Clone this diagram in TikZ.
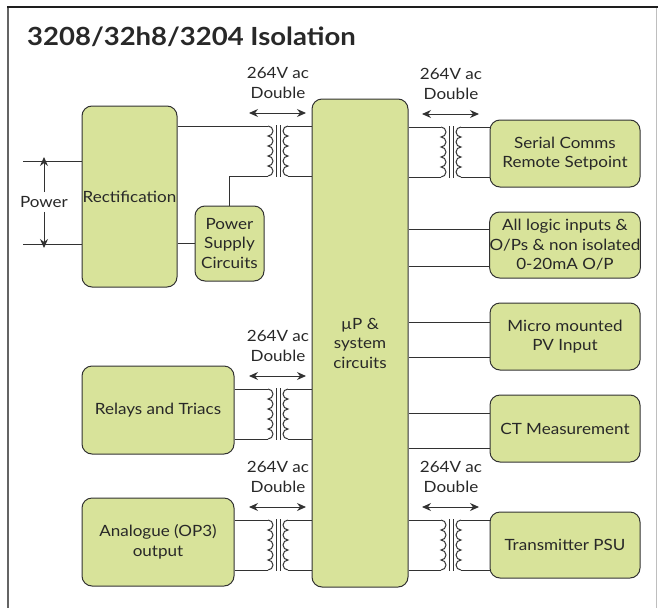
\documentclass[tikz,border=0pt]{standalone}
\usepackage{fontspec}
\setmainfont{Lato}[FakeStretch=1.1]
\usetikzlibrary{arrows.meta}
\definecolor{boxfill}{RGB}{216,227,154}
\definecolor{lineC}{RGB}{50,50,50}
\definecolor{txtC}{RGB}{40,40,40}
\begin{document}
\begin{tikzpicture}[x=1pt,y=-1pt,
  blk/.style={draw=lineC, fill=boxfill, line width=1pt, rounded corners=10pt, align=center, inner sep=0pt, font=\fontsize{15.5}{19.5}\selectfont, text=txtC},
  wire/.style={draw=lineC, line width=1pt},
  lbl/.style={align=center, inner sep=0pt, font=\fontsize{15.5}{19.5}\selectfont, text=txtC},
  dbl/.style={draw=lineC, line width=1pt, {Stealth[length=9pt,width=8pt]}-{Stealth[length=9pt,width=8pt]}},
  xfmr/.pic={
    \coordinate (-tl) at (-10,0);
    \coordinate (-bl) at (-10,50);
    \coordinate (-tr) at (10,0);
    \coordinate (-br) at (10,50);
    \draw[wire] (-2,-1) -- (-2,51) (2,-1) -- (2,51);
    \draw[wire] (-10,0) arc[start angle=90,end angle=-90,radius=5pt]
      arc[start angle=90,end angle=-90,radius=5pt]
      arc[start angle=90,end angle=-90,radius=5pt]
      arc[start angle=90,end angle=-90,radius=5pt]
      arc[start angle=90,end angle=-90,radius=5pt];
    \draw[wire] (10,0) arc[start angle=90,end angle=270,radius=5pt]
      arc[start angle=90,end angle=270,radius=5pt]
      arc[start angle=90,end angle=270,radius=5pt]
      arc[start angle=90,end angle=270,radius=5pt]
      arc[start angle=90,end angle=270,radius=5pt];
    \coordinate (-al) at (-29,-13);
    \coordinate (-ar) at (28,-13);
    \draw[dbl] (-al) -- (-ar);
    \node[lbl] (-lbl) at (0,-43) {264V ac\\Double};
  }
]
\useasboundingbox (0,0) rectangle (658,608);
% frame
\draw[draw={rgb,255:red,190;green,190;blue,190}, line width=0.8pt] (656,8) -- (656,608);
\draw[draw={rgb,255:red,100;green,100;blue,100}, line width=2pt] (8,7) -- (8,608);
\draw[draw={rgb,255:red,30;green,30;blue,30}, line width=2pt] (7,7) -- (658,7);
% title
\node[anchor=base west, inner sep=0pt, font=\fontsize{25}{30}\selectfont\bfseries, text=txtC] (title) at (27,45) {3208/32h8/3204 Isolation};

% blocks
\node[blk, minimum width=95pt, minimum height=181pt] (rect) at (129.5,196.5) {Rectification};
\node[blk, minimum width=69pt, minimum height=75pt] (psc) at (229.5,243.5) {Power\\Supply\\Circuits};
\node[blk, minimum width=96pt, minimum height=488pt] (up) at (360,343) {µP \&\\system\\circuits};
\node[blk, minimum width=150pt, minimum height=67pt] (serial) at (565,153.5) {Serial Comms\\Remote Setpoint};
\node[blk, minimum width=150pt, minimum height=66pt] (logic) at (565,245) {All logic inputs \&\\O/Ps \& non isolated\\0-20mA O/P};
\node[blk, minimum width=150pt, minimum height=67pt] (micro) at (565,336.5) {Micro mounted\\PV Input};
\node[blk, minimum width=150pt, minimum height=67pt] (ct) at (565,428.5) {CT Measurement};
\node[blk, minimum width=150pt, minimum height=66pt] (tpsu) at (565,545) {Transmitter PSU};
\node[blk, minimum width=152pt, minimum height=88pt] (relay) at (158,410) {Relays and Triacs};
\node[blk, minimum width=152pt, minimum height=88pt] (analog) at (158,542) {Analogue (OP3)\\output};

% transformers
\pic (T1) at (278,126) {xfmr};
\pic (T2) at (451,127) {xfmr};
\pic (T3) at (278,389) {xfmr};
\pic (T4) at (278,520) {xfmr};
\pic (T5) at (451,520) {xfmr};

% T1 connections
\draw[wire] (T1-tl -| rect.east) -- (T1-tl);
\draw[wire] (T1-tr) -- (T1-tr -| up.west);
\draw[wire] (T1-br) -- (T1-br -| up.west);
\draw[wire] (psc.north) -- (psc.north |- T1-bl) -- (T1-bl);
\draw[wire] (psc.west) -- (psc.west -| rect.east);
% T2
\draw[wire] (T2-tl -| up.east) -- (T2-tl);
\draw[wire] (T2-bl -| up.east) -- (T2-bl);
\draw[wire] (T2-tr) -- (T2-tr -| serial.west);
\draw[wire] (T2-br) -- (T2-br -| serial.west);
% T3
\draw[wire] (T3-tl -| relay.east) -- (T3-tl);
\draw[wire] (T3-bl -| relay.east) -- (T3-bl);
\draw[wire] (T3-tr) -- (T3-tr -| up.west);
\draw[wire] (T3-br) -- (T3-br -| up.west);
% T4
\draw[wire] (T4-tl -| analog.east) -- (T4-tl);
\draw[wire] (T4-bl -| analog.east) -- (T4-bl);
\draw[wire] (T4-tr) -- (T4-tr -| up.west);
\draw[wire] (T4-br) -- (T4-br -| up.west);
% T5
\draw[wire] (T5-tl -| up.east) -- (T5-tl);
\draw[wire] (T5-bl -| up.east) -- (T5-bl);
\draw[wire] (T5-tr) -- (T5-tr -| tpsu.west);
\draw[wire] (T5-br) -- (T5-br -| tpsu.west);

% direct links
\draw[wire] ([yshift=16pt]logic.west) -- ([yshift=16pt]logic.west -| up.east);
\draw[wire] ([yshift=-21pt]logic.west) -- ([yshift=-21pt]logic.west -| up.east);
\draw[wire] ([yshift=14.5pt]micro.west) -- ([yshift=14.5pt]micro.west -| up.east);
\draw[wire] ([yshift=-20.5pt]micro.west) -- ([yshift=-20.5pt]micro.west -| up.east);
\draw[wire] ([yshift=15.5pt]ct.west) -- ([yshift=15.5pt]ct.west -| up.east);
\draw[wire] ([yshift=-19.5pt]ct.west) -- ([yshift=-19.5pt]ct.west -| up.east);

% power input
\coordinate (pT) at (23,161);
\coordinate (pB) at (23,244);
\draw[wire] (pT) -- (pT -| rect.west);
\draw[wire] (pB) -- (pB -| rect.west);
\node[lbl] (pw) at (44,202) {Power};
\draw[draw=lineC, line width=1pt, -{Stealth[length=9pt,width=8pt]}] ([yshift=4pt]pw.north) -- ([yshift=4pt]pw.north |- pT);
\draw[draw=lineC, line width=1pt, -{Stealth[length=9pt,width=8pt]}] ([yshift=-4pt]pw.south) -- ([yshift=-4pt]pw.south |- pB);
\end{tikzpicture}
\end{document}
